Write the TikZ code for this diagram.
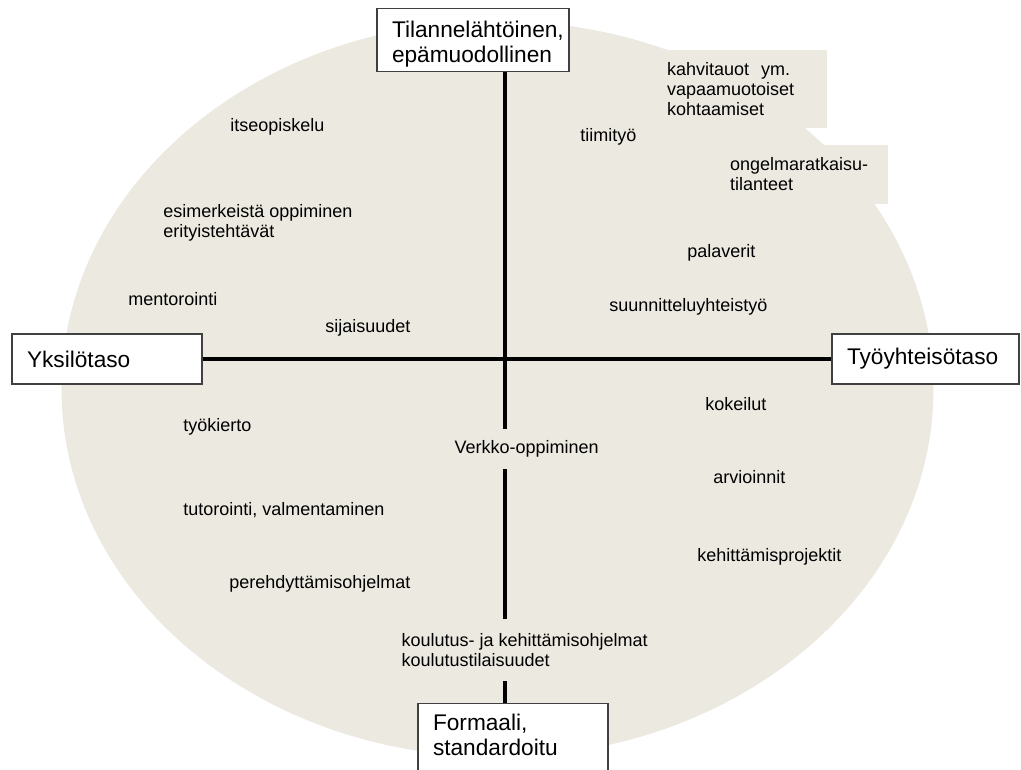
\documentclass[tikz,border=0pt]{standalone}
\usepackage{fontspec}
\setmainfont{Liberation Sans}

\definecolor{sand}{RGB}{236,233,224}
\tikzset{
    axisbox/.style={draw=black!75, line width=1pt, fill=white, align=left,
        font=\fontsize{17}{18.75}\selectfont, inner sep=0pt},
    item/.style={anchor=west, align=left, inner sep=0pt,
        font=\fontsize{13.5}{15}\selectfont},
    gapitem/.style={item, fill=sand, inner xsep=1pt},
    sandbox/.style={fill=sand, inner sep=0pt, align=left,
        font=\fontsize{13.5}{15}\selectfont},
    axis/.style={black, line width=3pt},
}

\begin{document}
\begin{tikzpicture}[x=0.75pt, y=-0.75pt]
    \useasboundingbox (0,0) rectangle (1021,769);
    \clip (0,0) rectangle (1021,769);
    \fill[sand] (497.5,389) ellipse [x radius=327pt, y radius=276pt];

    % boxes that stick out of the ellipse
    \node[sandbox, minimum width=132.75pt, minimum height=58.5pt, text width=107.25pt]
        (coffee) at (738.5,89) {kahvitauot\ \ ym.\\vapaamuotoiset\\kohtaamiset};
    \node[sandbox, minimum width=131.25pt, minimum height=44.25pt, text width=105.75pt]
        (problems) at (800.5,174.5) {ongelmaratkaisu-\\tilanteet};

    % the four ends of the axes
    \node[axisbox, anchor=north, minimum width=144pt, text width=121.5pt,
        text height=21.75pt, text depth=25.5pt] (informal) at (473,8) {Tilannelähtöinen,\\epämuodollinen};
    \node[axisbox, minimum width=142.5pt, minimum height=37.5pt, text width=120pt]
        (individual) at (107,359) {Yksilötaso};
    \node[axisbox, minimum width=140.25pt, minimum height=37.5pt, text width=117.75pt]
        (community) at (925.5,359) {Työyhteisötaso};
    \node[axisbox, anchor=north, minimum width=142.5pt, text width=120pt,
        text height=20.25pt, text depth=40pt] (formal) at (513,703) {Formaali,\\standardoitu};

    \coordinate (hub) at (505,359);
    \draw[axis] (hub |- informal.south) -- (hub |- formal.north);
    \draw[axis] (individual.east) -- (community.west);

    % ways of learning
    \node[item] (selfstudy) at (230,127) {itseopiskelu};
    \node[item] (examples) at (163,223) {esimerkeistä oppiminen\\erityistehtävät};
    \node[item] (mentoring) at (128,299) {mentorointi};
    \node[item] (substitute) at (325,328) {sijaisuudet};
    \node[item] (rotation) at (183,427) {työkierto};
    \node[item] (tutoring) at (183,510) {tutorointi, valmentaminen};
    \node[item] (orientation) at (229,584) {perehdyttämisohjelmat};
    \node[gapitem, inner ysep=8.5pt] (online) at (453,449) {Verkko-oppiminen};
    \node[gapitem, inner ysep=11pt] (training) at (400,650)
        {koulutus- ja kehittämisohjelmat\\koulutustilaisuudet};
    \node[item] (teamwork) at (580,137) {tiimityö};
    \node[item] (meetings) at (687,253) {palaverit};
    \node[item] (planning) at (609,307) {suunnitteluyhteistyö};
    \node[item] (trials) at (705,404) {kokeilut};
    \node[item] (evaluations) at (713,477) {arvioinnit};
    \node[item] (projects) at (697,557) {kehittämisprojektit};
\end{tikzpicture}
\end{document}
